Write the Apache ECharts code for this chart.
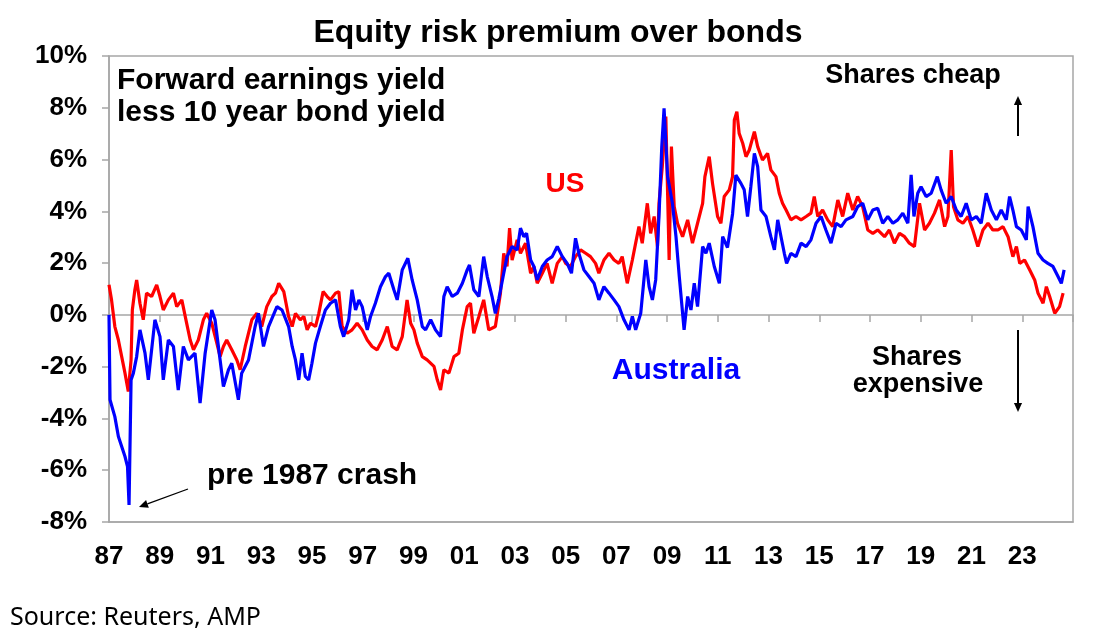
<!DOCTYPE html>
<html>
<head>
<meta charset="utf-8">
<title>Equity risk premium over bonds</title>
<script src="https://cdn.jsdelivr.net/npm/echarts@6/dist/echarts.min.js"></script>
<style>
  html, body { margin: 0; padding: 0; background: #fff; }
  #chart { width: 1096px; height: 642px; }
</style>
</head>
<body>
<div id="chart"></div>
<script>
// forward earnings yield less 10y bond yield, %
const auYears = [
  1987.00, 1987.04, 1987.23, 1987.37, 1987.50, 1987.63, 1987.73, 1987.79, 1987.87, 1987.96,
  1988.09, 1988.22, 1988.42, 1988.55, 1988.81, 1989.01, 1989.14, 1989.34, 1989.54, 1989.73,
  1989.93, 1990.13, 1990.39, 1990.59, 1990.79, 1991.05, 1991.18, 1991.38, 1991.51, 1991.71,
  1991.84, 1992.10, 1992.23, 1992.50, 1992.76, 1992.89, 1993.09, 1993.29, 1993.62, 1993.82,
  1994.08, 1994.22, 1994.35, 1994.48, 1994.61, 1994.74, 1994.87, 1995.00, 1995.14, 1995.33,
  1995.53, 1995.73, 1995.93, 1996.12, 1996.25, 1996.45, 1996.58, 1996.72, 1996.85, 1996.98,
  1997.18, 1997.31, 1997.50, 1997.70, 1997.90, 1998.03, 1998.23, 1998.36, 1998.56, 1998.78,
  1998.95, 1999.15, 1999.35, 1999.48, 1999.68, 1999.87, 2000.07, 2000.20, 2000.33, 2000.53,
  2000.73, 2000.93, 2001.12, 2001.21, 2001.38, 2001.58, 2001.77, 2001.91, 2002.10, 2002.23,
  2002.37, 2002.56, 2002.69, 2002.89, 2003.09, 2003.22, 2003.35, 2003.46, 2003.62, 2003.75,
  2003.88, 2004.08, 2004.27, 2004.47, 2004.67, 2004.87, 2005.06, 2005.23, 2005.39, 2005.52,
  2005.72, 2005.92, 2006.12, 2006.31, 2006.51, 2006.71, 2006.91, 2007.10, 2007.30, 2007.50,
  2007.63, 2007.76, 2007.96, 2008.16, 2008.29, 2008.42, 2008.55, 2008.68, 2008.79, 2008.88,
  2009.02, 2009.21, 2009.35, 2009.48, 2009.67, 2009.81, 2009.94, 2010.07, 2010.20, 2010.40,
  2010.53, 2010.66, 2010.86, 2011.06, 2011.19, 2011.38, 2011.58, 2011.71, 2011.78, 2011.91,
  2012.04, 2012.17, 2012.30, 2012.44, 2012.57, 2012.70, 2012.90, 2013.09, 2013.23, 2013.36,
  2013.49, 2013.62, 2013.71, 2013.88, 2014.08, 2014.28, 2014.48, 2014.67, 2014.87, 2015.07,
  2015.26, 2015.46, 2015.66, 2015.86, 2016.05, 2016.32, 2016.51, 2016.71, 2016.91, 2017.11,
  2017.30, 2017.50, 2017.70, 2017.90, 2018.09, 2018.29, 2018.49, 2018.62, 2018.73, 2018.88,
  2019.01, 2019.21, 2019.41, 2019.65, 2019.80, 2020.00, 2020.20, 2020.40, 2020.59, 2020.79,
  2020.99, 2021.19, 2021.38, 2021.58, 2021.78, 2021.98, 2022.17, 2022.37, 2022.50, 2022.63,
  2022.77, 2022.96, 2023.16, 2023.23, 2023.42, 2023.62, 2023.82, 2024.01, 2024.21, 2024.41,
  2024.54, 2024.65
];
const auValues = [
  0.00, -3.28, -3.93, -4.70, -5.08, -5.47, -5.86, -7.34, -2.51, -2.25,
  -1.61, -0.58, -1.48, -2.51, -0.19, -0.84, -2.51, -0.97, -1.22, -2.90,
  -1.22, -1.74, -1.48, -3.41, -1.48, 0.19, -0.19, -1.74, -2.77, -2.12,
  -1.87, -3.28, -2.25, -1.74, -0.45, 0.06, -1.22, -0.45, 0.32, 0.19,
  -0.45, -1.22, -1.74, -2.51, -1.48, -2.38, -2.51, -1.87, -1.09, -0.45,
  0.19, 0.45, 0.58, -0.45, -0.84, -0.19, 0.97, 0.19, 0.58, 0.32,
  -0.58, -0.06, 0.45, 1.09, 1.48, 1.61, 0.97, 0.58, 1.74, 2.19,
  1.35, 0.58, -0.45, -0.58, -0.19, -0.58, -0.84, 0.71, 1.09, 0.71,
  0.84, 1.22, 1.74, 1.93, 0.97, 0.71, 2.25, 1.48, 0.71, 0.06,
  0.64, 1.61, 2.25, 2.64, 2.51, 3.35, 3.02, 3.15, 2.12, 1.87,
  1.35, 1.87, 2.12, 2.25, 2.64, 2.25, 1.99, 1.61, 2.96, 2.38,
  1.74, 1.48, 1.22, 0.58, 1.09, 0.84, 0.58, 0.32, -0.19, -0.58,
  -0.06, -0.58, 0.06, 2.12, 1.09, 0.58, 1.35, 3.80, 6.50, 7.98,
  5.34, 4.31, 3.02, 1.48, -0.58, 0.71, 0.19, 1.22, 0.32, 2.64,
  2.38, 2.77, 1.87, 1.22, 3.02, 2.60, 3.90, 5.40, 5.47, 5.08,
  4.83, 3.80, 4.95, 6.24, 5.73, 4.05, 3.80, 3.02, 2.51, 3.67,
  3.02, 2.38, 1.99, 2.38, 2.25, 2.77, 2.64, 2.90, 3.54, 3.80,
  3.28, 2.77, 3.54, 3.41, 3.67, 3.80, 4.18, 4.31, 3.67, 4.05,
  4.12, 3.54, 3.80, 3.54, 3.67, 3.93, 3.54, 5.41, 3.80, 4.70,
  4.95, 4.57, 4.70, 5.34, 4.83, 4.31, 4.57, 4.05, 3.80, 4.31,
  3.67, 3.80, 3.54, 4.70, 4.05, 3.67, 4.05, 3.67, 4.57, 4.05,
  3.41, 3.28, 2.90, 4.18, 3.41, 2.38, 2.12, 1.99, 1.87, 1.48,
  1.22, 1.74
];

const usYears = [
  1987.00, 1987.10, 1987.23, 1987.37, 1987.50, 1987.63, 1987.76, 1987.87, 1987.92, 1988.02,
  1988.09, 1988.22, 1988.35, 1988.48, 1988.68, 1988.88, 1989.01, 1989.14, 1989.34, 1989.54,
  1989.67, 1989.87, 1990.06, 1990.20, 1990.33, 1990.52, 1990.72, 1990.85, 1991.05, 1991.25,
  1991.38, 1991.51, 1991.64, 1991.84, 1992.04, 1992.17, 1992.37, 1992.63, 1992.83, 1993.02,
  1993.22, 1993.42, 1993.56, 1993.69, 1993.89, 1994.08, 1994.22, 1994.35, 1994.54, 1994.68,
  1994.81, 1994.94, 1995.14, 1995.27, 1995.44, 1995.60, 1995.73, 1995.93, 1996.06, 1996.19,
  1996.39, 1996.58, 1996.78, 1996.98, 1997.18, 1997.37, 1997.57, 1997.77, 1997.97, 1998.16,
  1998.36, 1998.56, 1998.75, 1998.89, 1999.02, 1999.15, 1999.35, 1999.54, 1999.81, 1999.94,
  2000.07, 2000.20, 2000.40, 2000.60, 2000.79, 2000.93, 2001.12, 2001.25, 2001.38, 2001.58,
  2001.77, 2001.97, 2002.23, 2002.43, 2002.56, 2002.69, 2002.79, 2002.89, 2003.09, 2003.22,
  2003.42, 2003.62, 2003.75, 2003.88, 2004.08, 2004.27, 2004.47, 2004.67, 2004.87, 2005.00,
  2005.19, 2005.39, 2005.59, 2005.79, 2005.98, 2006.18, 2006.31, 2006.51, 2006.71, 2006.91,
  2007.10, 2007.23, 2007.43, 2007.63, 2007.76, 2007.89, 2008.02, 2008.22, 2008.35, 2008.49,
  2008.62, 2008.68, 2008.81, 2008.95, 2009.08, 2009.17, 2009.28, 2009.41, 2009.61, 2009.81,
  2010.00, 2010.20, 2010.40, 2010.49, 2010.66, 2010.79, 2010.99, 2011.12, 2011.25, 2011.45,
  2011.58, 2011.65, 2011.75, 2011.84, 2011.98, 2012.11, 2012.24, 2012.44, 2012.57, 2012.76,
  2012.96, 2013.09, 2013.29, 2013.42, 2013.55, 2013.69, 2013.88, 2014.08, 2014.28, 2014.48,
  2014.67, 2014.80, 2014.94, 2015.13, 2015.33, 2015.53, 2015.73, 2015.92, 2016.12, 2016.32,
  2016.51, 2016.71, 2016.91, 2017.11, 2017.30, 2017.57, 2017.76, 2017.96, 2018.16, 2018.36,
  2018.55, 2018.75, 2018.95, 2019.15, 2019.34, 2019.54, 2019.74, 2019.94, 2020.07, 2020.20,
  2020.29, 2020.46, 2020.66, 2020.86, 2021.05, 2021.25, 2021.45, 2021.65, 2021.84, 2022.04,
  2022.24, 2022.44, 2022.63, 2022.77, 2022.90, 2023.09, 2023.29, 2023.49, 2023.62, 2023.82,
  2023.95, 2024.08, 2024.28, 2024.47, 2024.61
];
const usValues = [
  1.16, 0.58, -0.45, -0.97, -1.61, -2.25, -2.96, -1.74, 0.19, 0.97,
  1.35, 0.45, -0.19, 0.84, 0.71, 1.16, 0.71, 0.19, 0.58, 0.84,
  0.32, 0.58, -0.32, -0.97, -1.35, -0.97, -0.19, 0.06, -0.32, -1.09,
  -1.61, -1.22, -0.97, -1.35, -1.74, -2.12, -1.22, -0.19, 0.06, -0.45,
  0.32, 0.71, 0.84, 1.22, 0.90, -0.06, -0.45, 0.06, -0.19, -0.06,
  -0.58, -0.32, -0.45, 0.06, 0.90, 0.71, 0.58, 0.84, 0.90, -0.45,
  -0.71, -0.58, -0.32, -0.58, -0.97, -1.22, -1.35, -0.97, -0.45, -1.22,
  -1.35, -0.84, 0.58, -0.32, -0.58, -1.09, -1.61, -1.74, -1.99, -2.51,
  -2.90, -2.12, -2.25, -1.61, -1.48, -0.58, 0.32, 0.45, -0.71, -0.06,
  0.58, -0.58, -0.45, 0.84, 2.38, 1.87, 3.35, 2.12, 2.90, 2.38,
  2.77, 1.61, 1.87, 1.22, 1.61, 1.99, 1.22, 1.99, 2.25, 1.99,
  1.87, 2.25, 2.51, 2.38, 2.25, 1.99, 1.61, 2.12, 2.38, 2.12,
  1.99, 2.25, 1.22, 2.12, 2.77, 3.41, 2.77, 4.31, 3.15, 3.80,
  2.64, 4.31, 5.73, 7.66, 2.12, 6.50, 4.18, 3.54, 3.02, 3.67,
  2.77, 3.54, 4.31, 5.34, 6.11, 5.08, 3.80, 3.54, 4.57, 4.83,
  5.34, 7.53, 7.85, 7.01, 6.63, 6.11, 6.37, 7.08, 6.50, 5.98,
  6.24, 5.60, 5.34, 4.70, 4.31, 4.05, 3.67, 3.80, 3.67, 3.80,
  3.93, 4.57, 3.80, 4.05, 3.67, 3.41, 4.44, 3.80, 4.70, 4.05,
  4.57, 4.18, 3.28, 3.15, 3.28, 3.02, 3.28, 2.77, 3.15, 3.02,
  2.77, 2.64, 4.31, 3.28, 3.54, 3.93, 4.44, 3.41, 3.80, 6.37,
  4.18, 3.67, 3.54, 3.80, 3.28, 2.64, 3.28, 3.54, 3.28, 3.28,
  3.41, 3.02, 2.25, 2.64, 1.99, 2.12, 1.74, 1.35, 0.84, 0.45,
  1.09, 0.71, 0.06, 0.32, 0.84
];

const yearMin = 1987;
const yearMax = 2025;
const yMin = -8;
const yMax = 10;

const FONT = '"Liberation Sans", Arial, sans-serif';

function pairs(xs, ys) {
  return xs.map((x, i) => [x, ys[i]]);
}

function yearLabel(v) {
  return String(Math.round(v) % 100).padStart(2, '0');
}

function label(text, x, y, size, color, align) {
  return {
    type: 'text',
    silent: true,
    style: {
      text: text, x: x, y: y,
      font: 'bold ' + size + 'px ' + FONT,
      fill: color || '#000',
      textAlign: align || 'center', align: align || 'center',
      textVerticalAlign: 'middle', verticalAlign: 'middle'
    }
  };
}

function arrow(x1, y1, x2, y2, head, width) {
  const ang = Math.atan2(y2 - y1, x2 - x1);
  const hw = head * 0.45;
  const bx = x2 - head * Math.cos(ang), by = y2 - head * Math.sin(ang);
  return [
    { type: 'line', silent: true,
      shape: { x1: x1, y1: y1, x2: bx, y2: by },
      style: { stroke: '#000', lineWidth: width } },
    { type: 'polygon', silent: true,
      shape: { points: [
        [x2, y2],
        [bx + hw * Math.sin(ang), by - hw * Math.cos(ang)],
        [bx - hw * Math.sin(ang), by + hw * Math.cos(ang)]
      ] },
      style: { fill: '#000' } }
  ];
}

const chart = echarts.init(document.getElementById('chart'), null, { renderer: 'canvas' });

const axisGrey = '#a6a6a6';

chart.setOption({
  animation: false,
  backgroundColor: '#fff',
  grid: {
    left: 109, right: 23, top: 56, bottom: 120,
    show: true, borderColor: axisGrey, borderWidth: 1.5, backgroundColor: 'transparent'
  },
  xAxis: [
    {
      type: 'value', min: yearMin, max: yearMax, interval: 2,
      position: 'bottom',
      axisLine: { onZero: false, lineStyle: { color: axisGrey, width: 1.5 } },
      axisTick: { show: false },
      splitLine: { show: false },
      axisLabel: {
        margin: 22, showMaxLabel: false,
        formatter: yearLabel,
        color: '#000', fontSize: 26, fontWeight: 'bold', fontFamily: FONT
      }
    },
    {
      type: 'value', min: yearMin, max: yearMax, interval: 2,
      position: 'top',
      axisLine: { onZero: true, lineStyle: { color: axisGrey, width: 1.5 } },
      axisTick: { show: true, inside: true, length: 7, lineStyle: { color: axisGrey, width: 1.5 } },
      axisLabel: { show: false },
      splitLine: { show: false }
    }
  ],
  yAxis: {
    type: 'value', min: yMin, max: yMax, interval: 2,
    axisLine: { show: true, onZero: false, lineStyle: { color: axisGrey, width: 1.5 } },
    axisTick: { show: true, length: 7, lineStyle: { color: axisGrey, width: 1.5 } },
    splitLine: { show: false },
    axisLabel: {
      margin: 22, formatter: '{value}%',
      color: '#000', fontSize: 26, fontWeight: 'bold', fontFamily: FONT
    }
  },
  series: [
    {
      name: 'US', type: 'line', data: pairs(usYears, usValues),
      showSymbol: false, z: 3,
      lineStyle: { color: '#ff0000', width: 3.2 }
    },
    {
      name: 'Australia', type: 'line', data: pairs(auYears, auValues),
      showSymbol: false, z: 4,
      lineStyle: { color: '#0000ff', width: 3.2 }
    }
  ],
  graphic: [
    label('Equity risk premium over bonds', 558, 33, 32, '#000'),
    label('Forward earnings yield', 117, 81, 30, '#000', 'left'),
    label('less 10 year bond yield', 117, 113, 30, '#000', 'left'),
    label('US', 565, 184, 28, '#ff0000'),
    label('Australia', 676, 371, 30, '#0000ff'),
    label('Shares cheap', 913, 76, 27, '#000'),
    label('Shares', 917, 358, 27, '#000'),
    label('expensive', 918, 385, 27, '#000'),
    label('pre 1987 crash', 207, 476, 30, '#000', 'left'),
    {
      type: 'text', silent: true,
      style: {
        text: 'Source: Reuters, AMP', x: 10, y: 618,
        font: '25px "Noto Sans", sans-serif', fill: '#000',
        textAlign: 'left', align: 'left',
        textVerticalAlign: 'middle', verticalAlign: 'middle'
      }
    }
  ].concat(
    arrow(1018, 136, 1018, 96, 9, 2),
    arrow(1018, 330, 1018, 412, 9, 2),
    arrow(188, 489, 139, 507, 9, 1.3)
  )
});
</script>
</body>
</html>
